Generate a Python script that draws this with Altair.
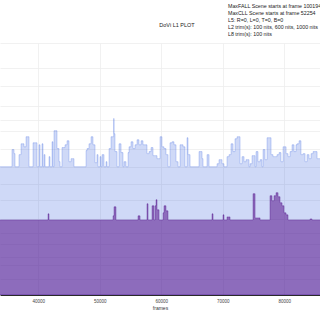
import altair as alt
import pandas as pd

# ---- data (frames, PQ code value 0..1) ----
max_frames = [
    33000, 35720, 36050, 36210, 36860, 37190, 37670, 38000, 38490, 39140,
    39790, 40110, 40280, 40600, 40760, 40930, 41090, 41740, 41900, 42230,
    42390, 42550, 43040, 43370, 43530, 43850, 44340, 44670, 44990, 45320,
    45800, 47760, 47920, 48240, 48570, 48890, 49220, 49540, 49710, 50030,
    50200, 50360, 50680, 51010, 51170, 51500, 51820, 52250, 52320, 52470,
    52800, 53120, 53450, 53770, 53930, 54260, 54590, 54750, 55070, 55400,
    55720, 56050, 56370, 56700, 57020, 57670, 58000, 58330, 58650, 59300,
    59790, 60110, 60440, 60760, 61090, 61410, 61740, 62060, 62390, 62720,
    63040, 63530, 63850, 64180, 64340, 64670, 66130, 66620, 66780, 67430,
    67760, 69060, 69380, 69870, 70190, 70680, 71010, 71330, 71660, 71980,
    72310, 72800, 73120, 73450, 73770, 74260, 74420, 74750, 75240, 75400,
    75720, 76050, 76370, 76540, 76860, 77190, 77840, 78160, 78810, 79140,
    79460, 79790, 80280, 80600, 80930, 81250, 81580, 81900, 82060, 82390,
    82710, 83040, 83370, 83690, 84020, 84340, 84670, 85320, 86500,
]
max_pq = [
    0.509, 0.577, 0.561, 0.509, 0.557, 0.600, 0.588, 0.628, 0.509, 0.604,
    0.509, 0.596, 0.509, 0.600, 0.509, 0.557, 0.509, 0.549, 0.509, 0.608,
    0.509, 0.652, 0.581, 0.529, 0.509, 0.585, 0.596, 0.612, 0.529, 0.541,
    0.509, 0.573, 0.581, 0.600, 0.628, 0.596, 0.525, 0.557, 0.509, 0.549,
    0.509, 0.557, 0.509, 0.529, 0.509, 0.581, 0.628, 0.700, 0.640, 0.569,
    0.509, 0.600, 0.565, 0.509, 0.529, 0.509, 0.565, 0.588, 0.608, 0.581,
    0.596, 0.616, 0.596, 0.612, 0.596, 0.561, 0.569, 0.585, 0.553, 0.541,
    0.628, 0.588, 0.581, 0.557, 0.509, 0.604, 0.608, 0.596, 0.529, 0.509,
    0.596, 0.588, 0.509, 0.624, 0.557, 0.509, 0.569, 0.541, 0.509, 0.557,
    0.509, 0.521, 0.537, 0.521, 0.509, 0.549, 0.557, 0.600, 0.569, 0.620,
    0.628, 0.521, 0.549, 0.529, 0.537, 0.509, 0.521, 0.553, 0.509, 0.569,
    0.529, 0.537, 0.509, 0.577, 0.537, 0.624, 0.557, 0.549, 0.557, 0.565,
    0.529, 0.588, 0.561, 0.549, 0.569, 0.596, 0.569, 0.596, 0.600, 0.612,
    0.557, 0.561, 0.529, 0.557, 0.541, 0.561, 0.569, 0.541, 0.541,
]

avg_frames = [
    33000, 41580, 41740, 52150, 52310, 52630, 56210, 56540, 57670, 57840,
    58490, 58810, 58980, 59140, 59300, 59630, 60280, 60440, 60760, 61090,
    68240, 68410, 70030, 70190, 70680, 71170, 74910, 75240, 76050, 77670,
    78000, 78320, 78650, 78980, 79300, 79630, 79950, 80280, 80600, 84180,
    84500, 86500,
]
avg_pq = [
    0.298, 0.322, 0.298, 0.314, 0.350, 0.298, 0.314, 0.298, 0.362, 0.298,
    0.354, 0.298, 0.354, 0.378, 0.338, 0.298, 0.326, 0.354, 0.334, 0.298,
    0.322, 0.298, 0.318, 0.298, 0.310, 0.298, 0.402, 0.306, 0.298, 0.394,
    0.374, 0.394, 0.406, 0.390, 0.366, 0.354, 0.326, 0.318, 0.298, 0.302,
    0.298, 0.298,
]

x_ticks = [40000, 50000, 60000, 70000, 80000]
nits_ticks = [0.1, 0.5, 1, 2.5, 5, 10, 25, 50, 100, 200, 400, 600, 1000, 2000, 4000, 10000]

title_text = "DoVi L1 PLOT"
info_lines = [
    "MaxFALL Scene starts at frame 100194",
    "MaxCLL Scene starts at frame 52254",
    "L5: R=0, L=0, T=0, B=0",
    "L2 trim(s): 100 nits, 600 nits, 1000 nits",
    "L8 trim(s): 100 nits",
]


def pq(nits):
    m1 = 2610 / 16384
    m2 = 2523 / 4096 * 128
    c1 = 3424 / 4096
    c2 = 2413 / 4096 * 32
    c3 = 2392 / 4096 * 32
    y = (nits / 10000) ** m1
    return ((c1 + c2 * y) / (1 + c3 * y)) ** m2


max_df = pd.DataFrame({"frame": max_frames, "pq": max_pq})
avg_df = pd.DataFrame({"frame": avg_frames, "pq": avg_pq})

FONT = "Liberation Sans"
x_scale = alt.Scale(domain=[33770, 85800], nice=False, zero=False)
y_scale = alt.Scale(domain=[0, 1], nice=False)

x_axis = alt.Axis(
    values=x_ticks, format="d", labelFont=FONT, labelFontSize=4.5, labelColor="#444444",
    title="frames", titleFont=FONT, titleFontSize=5, titleFontWeight="normal",
    titleColor="#333333", grid=True, gridColor="#ededed", gridWidth=0.8,
    domainColor="#2a2a2a", domainWidth=1, ticks=False, labelPadding=3, titlePadding=3,
)
y_axis = alt.Axis(
    values=[pq(n) for n in nits_ticks], labels=False, ticks=False, domain=False,
    title=None, grid=True, gridColor="#ededed", gridWidth=0.8,
)

max_layer = alt.Chart(max_df).mark_area(
    interpolate="step-after", fill="#4169e1", fillOpacity=0.25,
    stroke="#4169e1", strokeOpacity=0.45, strokeWidth=0.6, clip=True,
).encode(
    x=alt.X("frame:Q", scale=x_scale, axis=x_axis),
    y=alt.Y("pq:Q", scale=y_scale, axis=y_axis),
)

avg_layer = alt.Chart(avg_df).mark_area(
    interpolate="step-after", fill="#4b0082", fillOpacity=0.5,
    stroke="#4b0082", strokeOpacity=0.55, strokeWidth=0.6, clip=True,
).encode(
    x=alt.X("frame:Q", scale=x_scale, axis=x_axis),
    y=alt.Y("pq:Q", scale=y_scale, axis=y_axis),
)

title_layer = alt.Chart(pd.DataFrame({"t": [title_text]})).mark_text(
    font=FONT, fontSize=5.5, color="#222222", align="center", baseline="middle",
).encode(x=alt.value(177), y=alt.value(-18.5), text="t:N")

info_layer = alt.Chart(pd.DataFrame({"t": ["\n".join(info_lines)]})).mark_text(
    font=FONT, fontSize=5.3, color="#222222", align="left", baseline="top",
    lineBreak="\n", lineHeight=7,
).encode(x=alt.value(228), y=alt.value(-39.5), text="t:N")

chart = alt.layer(max_layer, avg_layer, title_layer, info_layer).properties(
    width=320, height=252,
    padding={"left": 0, "top": 43, "right": 0, "bottom": 25},
    autosize=alt.AutoSizeParams(type="none"),
    background="white",
).configure_view(stroke=None)

chart.save("out.html", embed_options={"renderer": "svg", "actions": False})
